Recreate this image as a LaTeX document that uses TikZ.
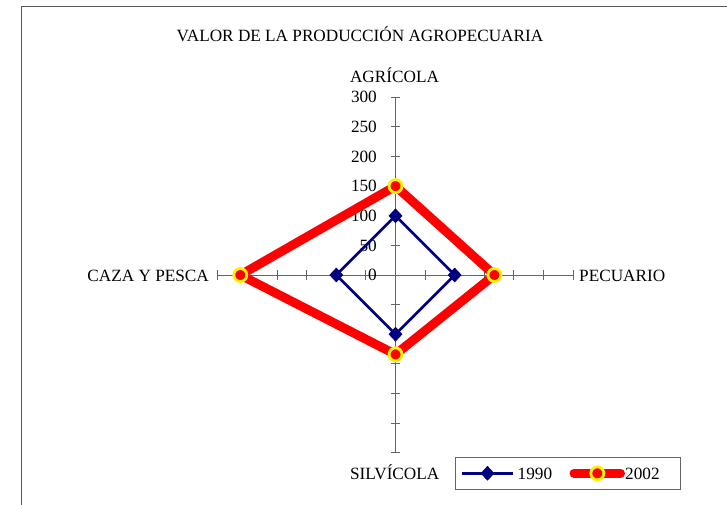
\documentclass[tikz,border=0pt]{standalone}
\usepackage{fontspec}
\setmainfont{Liberation Serif}
\usetikzlibrary{calc,shapes.geometric}
\definecolor{navyb}{RGB}{0,0,128}
\definecolor{axisgray}{RGB}{100,100,100}
\definecolor{framegray}{RGB}{90,90,90}
\begin{document}
\begin{tikzpicture}[x=1pt,y=-1pt,
  lbl/.style={font=\fontsize{17.2}{19}\selectfont,inner sep=0pt},
  axisline/.style={draw=axisgray,line width=1pt},
  ser90/.style={draw=navyb,line width=2.6pt,line join=miter},
  ser02/.style={draw=red,line width=9pt,line join=round,line cap=round},
  dia/.style={shape=diamond,fill=navyb,minimum width=14pt,minimum height=15pt,inner sep=0pt},
  circ/.style={shape=circle,fill=red,draw=yellow,line width=2.8pt,minimum size=13pt,inner sep=0pt}]
\useasboundingbox (0,0) rectangle (727,504);
\fill[white] (0,0) rectangle (727,504);
% frame
\draw[framegray,line width=1.6pt] (21.5,520) -- (21.5,6.5) -- (740,6.5);
% axes
\coordinate (O) at (395.5,275);
\coordinate (Atop) at (395.5,97.3);
\coordinate (Sbot) at (395.5,452.7);
\coordinate (Cend) at (217.8,275);
\coordinate (Pend) at (573.2,275);
\draw[axisline] (Atop) -- (Sbot);
\draw[axisline] (Cend) -- (Pend);
\foreach \k in {1,...,6}{
  \draw[axisline] ($(O)+(-4.5,-29.62*\k)$) -- ++(9,0);
  \draw[axisline] ($(O)+(-4.5,29.62*\k)$) -- ++(9,0);
  \draw[axisline] ($(O)+(29.62*\k,-5)$) -- ++(0,10);
  \draw[axisline] ($(O)+(-29.62*\k,-5)$) -- ++(0,10);
}
\foreach \k in {0,...,6}{
  \pgfmathtruncatemacro{\v}{50*\k}
  \node[lbl,anchor=east] (t\k) at ($(O)+(-18.5,-29.62*\k)$) {\v};
}
% data points
\coordinate (a90) at (395.5,215.8);
\coordinate (p90) at (454.7,275);
\coordinate (s90) at (395.5,334.2);
\coordinate (c90) at (336.3,275);
\coordinate (a02) at (395.5,186.1);
\coordinate (p02) at (494.4,275);
\coordinate (s02) at (395.5,354.4);
\coordinate (c02) at (240.3,275);
\draw[ser02] (a02) -- (p02) -- (s02) -- (c02) -- cycle;
\draw[ser90] (a90) -- (p90) -- (s90) -- (c90) -- cycle;
\foreach \p in {a90,p90,s90,c90}{\node[dia] at (\p) {};}
\foreach \p in {a02,p02,s02,c02}{\node[circ] at (\p) {};}
% labels
\node[lbl,anchor=base] (title) at (360,41) {VALOR DE LA PRODUCCIÓN AGROPECUARIA};
\node[lbl,anchor=base] (agr) at (394.5,82.7) {AGRÍCOLA};
\node[lbl,anchor=base east] (caza) at (209,281.7) {CAZA Y PESCA};
\node[lbl,anchor=base west] (pec) at (579,281) {PECUARIO};
\node[lbl,anchor=base] (sil) at (394.7,479) {SILVÍCOLA};
% legend
\draw[draw=axisgray,line width=1pt] (455,457.3) rectangle (680,489.3);
\coordinate (l1a) at (461.7,473.3);
\coordinate (l1b) at (512.7,473.3);
\coordinate (l2a) at (574,473.3);
\coordinate (l2b) at (620.5,473.3);
\draw[ser90] (l1a) -- (l1b);
\node[dia] (m1) at (487.5,473.3) {};
\node[lbl,anchor=base west] (y1990) at (517.5,479.5) {1990};
\draw[ser02] (l2a) -- (l2b);
\node[circ] (m2) at (597.3,473.3) {};
\node[lbl,anchor=base west] (y2002) at (625,479.5) {2002};
\end{tikzpicture}
\end{document}
